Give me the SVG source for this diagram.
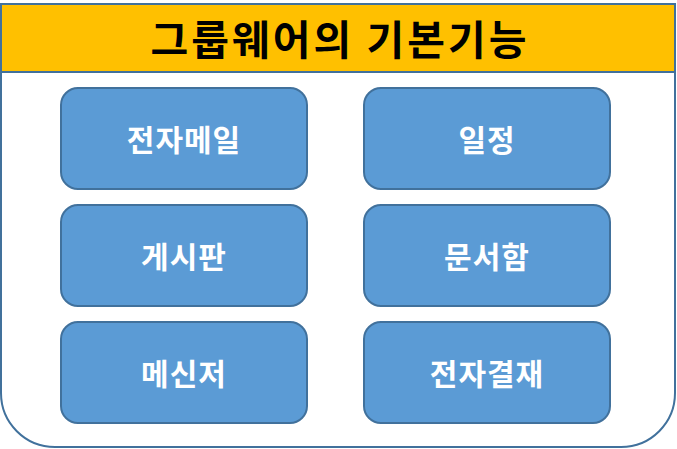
<svg xmlns="http://www.w3.org/2000/svg" width="677" height="449" viewBox="0 0 677 449">
<style>
.box{fill:#5B9BD5;stroke:#41719C;stroke-width:2}
.lbl{font-family:"Noto Sans CJK KR","Noto Sans",sans-serif;font-weight:bold;font-size:30px;letter-spacing:1px;fill:#FFFFFF;text-anchor:middle;dominant-baseline:central}
.title{font-family:"Noto Sans CJK KR","Noto Sans",sans-serif;font-weight:bold;font-size:41px;letter-spacing:3px;fill:#000000;text-anchor:middle;dominant-baseline:central}
</style>
<g id="container">
<rect x="1" y="18" width="674" height="429" rx="54" ry="54" fill="#FFFFFF" stroke="#41719C" stroke-width="2"/>
</g>
<g id="header">
<rect x="1" y="4" width="674" height="68" fill="#FFC000" stroke="#41719C" stroke-width="2"/>
<text class="title" x="340" y="37">그룹웨어의 기본기능</text>
</g>
<g id="connectors"></g>
<g id="n1"><rect class="box" x="61" y="88" width="246" height="101" rx="17"/><text class="lbl" x="184" y="138">전자메일</text></g>
<g id="n2"><rect class="box" x="364" y="88" width="246" height="101" rx="17"/><text class="lbl" x="487" y="138">일정</text></g>
<g id="n3"><rect class="box" x="61" y="205" width="246" height="101" rx="17"/><text class="lbl" x="184" y="255">게시판</text></g>
<g id="n4"><rect class="box" x="364" y="205" width="246" height="101" rx="17"/><text class="lbl" x="487" y="255">문서함</text></g>
<g id="n5"><rect class="box" x="61" y="322" width="246" height="101" rx="17"/><text class="lbl" x="184" y="372">메신저</text></g>
<g id="n6"><rect class="box" x="364" y="322" width="246" height="101" rx="17"/><text class="lbl" x="487" y="372">전자결재</text></g>
</svg>
